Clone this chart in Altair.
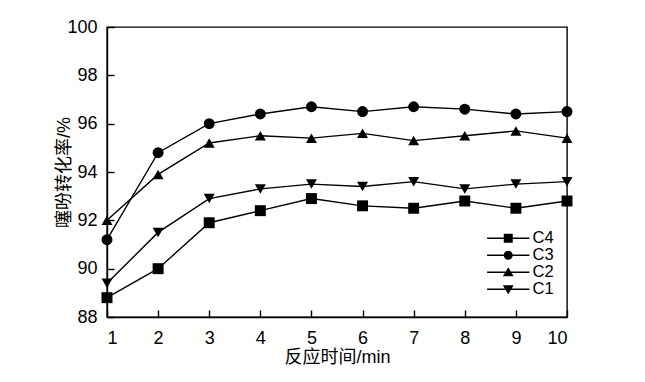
import altair as alt
import pandas as pd

times = [1, 2, 3, 4, 5, 6, 7, 8, 9, 10]
c1 = [89.4, 91.5, 92.9, 93.3, 93.5, 93.4, 93.6, 93.3, 93.5, 93.6]
c2 = [92.0, 93.9, 95.2, 95.5, 95.4, 95.6, 95.3, 95.5, 95.7, 95.4]
c3 = [91.2, 94.8, 96.0, 96.4, 96.7, 96.5, 96.7, 96.6, 96.4, 96.5]
c4 = [88.8, 90.0, 91.9, 92.4, 92.9, 92.6, 92.5, 92.8, 92.5, 92.8]
series_names = ["C4", "C3", "C2", "C1"]
series_values = {"C4": c4, "C3": c3, "C2": c2, "C1": c1}
shapes = ["square", "circle", "triangle-up", "triangle-down"]
y_ticks = [88, 90, 92, 94, 96, 98, 100]

rows = []
for s in series_names:
    for t, v in zip(times, series_values[s]):
        rows.append({"time": t, "value": v, "series": s})
df = pd.DataFrame(rows)

FONT = "Liberation Sans, Arial, Noto Sans CJK SC"

# legend symbols: a short line (thin filled bar) with the marker in the middle
BAR = "M-4.7,-0.16H4.7V0.16H-4.7Z"
legend_paths = [
    BAR + "M-1,-1H1V1H-1Z",
    BAR + "M1,0A1,1,0,1,1,-1,0A1,1,0,1,1,1,0Z",
    BAR + "M0,-1.1L1.2,0.9H-1.2Z",
    BAR + "M0,1.1L-1.2,-0.9H1.2Z",
]

x_enc = alt.X(
    "time:Q",
    scale=alt.Scale(domain=[1, 10], nice=False),
    axis=alt.Axis(
        title="反应时间/min",
        values=times,
        format="d",
        tickSize=alt.ExprRef("-7"),
        labelPadding=19,
        titlePadding=1,
    ),
)
y_enc = alt.Y(
    "value:Q",
    scale=alt.Scale(domain=[88, 100], nice=False, zero=False),
    axis=alt.Axis(
        title="噻吩转化率/%",
        values=y_ticks,
        tickSize=alt.ExprRef("-7"),
        labelPadding=17,
        titleX=-34,
        titleY=145,
    ),
)

lines = alt.Chart(df).mark_line(color="black", strokeWidth=1.4).encode(
    x=x_enc, y=y_enc, detail="series:N"
)

points = alt.Chart(df).mark_point(filled=True, color="black", size=120, opacity=1).encode(
    x=x_enc,
    y=y_enc,
    shape=alt.Shape(
        "series:N",
        scale=alt.Scale(domain=series_names, range=shapes),
        legend=None,
    ),
)

legend_layer = alt.Chart(df).mark_point(
    filled=True, fill="black", stroke="black", strokeWidth=0.5, size=10, opacity=0
).encode(
    x=x_enc,
    y=y_enc,
    shape=alt.Shape(
        "series:N",
        scale=alt.Scale(domain=series_names, range=legend_paths),
        legend=alt.Legend(
            title=None,
            orient="none",
            legendX=393,
            legendY=203,
            padding=0,
            rowPadding=0,
            symbolSize=81,
            symbolFillColor="black",
            symbolStrokeColor="black",
            symbolStrokeWidth=0.5,
            symbolOpacity=1,
            labelOffset=16,
            labelFontSize=16.5,
            labelFont=FONT,
            labelColor="black",
        ),
    ),
)

chart = (
    alt.layer(lines, points, legend_layer)
    .resolve_scale(shape="independent")
    .properties(
        width=460,
        height=290,
        background="white",
        autosize=alt.AutoSizeParams(type="none"),
        padding={"left": 99, "top": 19, "right": 70, "bottom": 57},
    )
    .configure_view(stroke="black", strokeWidth=1.4)
    .configure_axis(
        grid=False,
        domainColor="black",
        domainWidth=1.4,
        tickColor="black",
        tickWidth=1.4,
        labelFont=FONT,
        labelFontSize=18,
        labelColor="black",
        titleFont=FONT,
        titleFontSize=18,
        titleFontWeight="normal",
        titleColor="black",
    )
)

chart.save("out.html", embed_options={"renderer": "svg", "actions": False})
